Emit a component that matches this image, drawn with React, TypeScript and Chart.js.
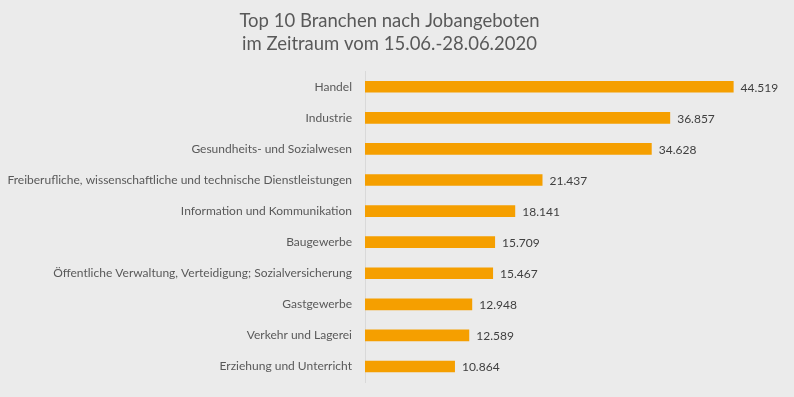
import React, { useEffect, useRef } from "react";
import { Chart, registerables } from "chart.js";

Chart.register(...registerables);

const titleLines = ["Top 10 Branchen nach Jobangeboten", "im Zeitraum vom 15.06.-28.06.2020"];
const categories = [
  "Handel",
  "Industrie",
  "Gesundheits- und Sozialwesen",
  "Freiberufliche, wissenschaftliche und technische Dienstleistungen",
  "Information und Kommunikation",
  "Baugewerbe",
  "Öffentliche Verwaltung, Verteidigung; Sozialversicherung",
  "Gastgewerbe",
  "Verkehr und Lagerei",
  "Erziehung und Unterricht",
];
const values = [44519, 36857, 34628, 21437, 18141, 15709, 15467, 12948, 12589, 10864];

const fmt = (v: number) => String(v).replace(/\B(?=(\d{3})+(?!\d))/g, ".");

const valueLabels = {
  id: "valueLabels",
  afterDatasetsDraw(chart: any) {
    const ctx = chart.ctx;
    const meta = chart.getDatasetMeta(0);
    ctx.save();
    ctx.font = "12px Lato";
    ctx.fillStyle = "#404040";
    ctx.textAlign = "left";
    ctx.textBaseline = "middle";
    meta.data.forEach((bar: any, i: number) => {
      ctx.fillText(fmt(values[i]), bar.x + 7, bar.y + 1);
    });
    ctx.restore();
  },
};

export default function App() {
  const ref = useRef<HTMLCanvasElement>(null);
  useEffect(() => {
    document.body.style.margin = "0";
    const chart = new Chart(ref.current!, {
      type: "bar",
      data: {
        labels: categories,
        datasets: [
          {
            data: values,
            backgroundColor: "#f59f00",
            barPercentage: 0.75,
            categoryPercentage: 0.5,
          },
        ],
      },
      options: {
        indexAxis: "y",
        animation: false,
        responsive: false,
        maintainAspectRatio: false,
        layout: { padding: { left: 0, right: 15, top: 0, bottom: 15 } },
        plugins: {
          legend: { display: false },
          tooltip: { enabled: false },
          title: {
            display: true,
            text: titleLines,
            color: "#595959",
            font: { family: "Lato", size: 18.5, weight: "normal", lineHeight: 1.25 },
            padding: { top: 9, bottom: 16 },
          },
        },
        scales: {
          x: {
            display: false,
            min: 0,
            max: 50000,
          },
          y: {
            grid: { display: false },
            border: { display: true, color: "#d9d9d9", width: 1 },
            ticks: {
              color: "#595959",
              font: { family: "Lato", size: 12 },
              padding: 5,
            },
            afterFit(scale: any) {
              scale.width = 365;
            },
          },
        },
      },
      plugins: [valueLabels],
    });
    return () => chart.destroy();
  }, []);
  return (
    <div style={{ width: 794, height: 397, background: "#ebebeb", position: "absolute", left: 0, top: 0 }}>
      <canvas ref={ref} width={794} height={397} />
    </div>
  );
}
